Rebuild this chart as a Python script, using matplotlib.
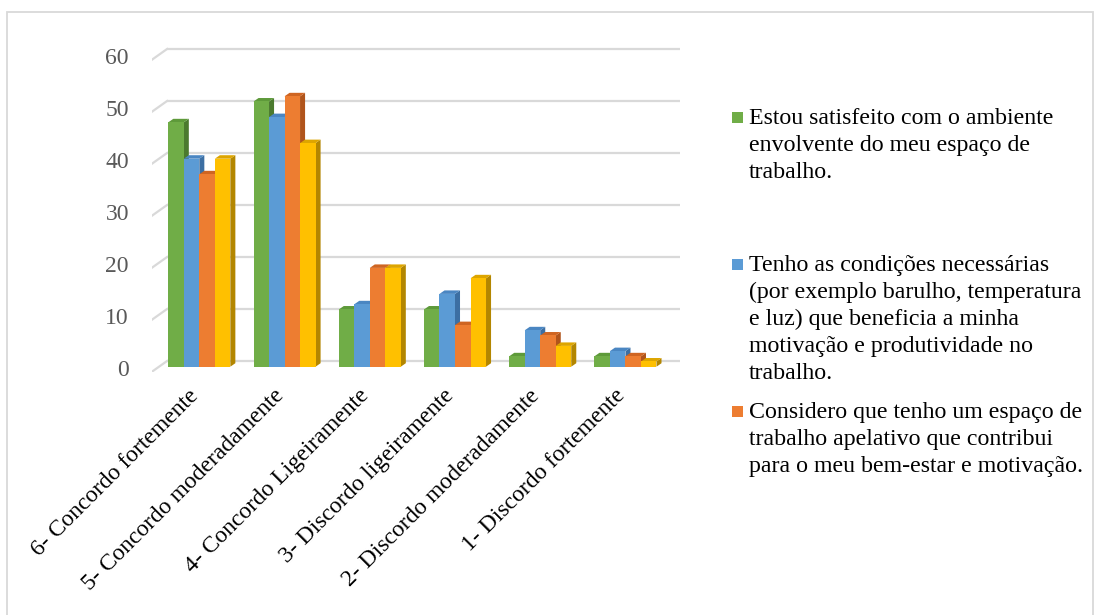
import matplotlib.pyplot as plt
from matplotlib.patches import Polygon, Rectangle
from matplotlib.transforms import offset_copy

categorias = ['6- Concordo fortemente', '5- Concordo moderadamente', '4- Concordo Ligeiramente',
              '3- Discordo ligeiramente', '2- Discordo moderadamente', '1- Discordo fortemente']

satisfeito = [47, 51, 11, 11, 2, 2]
condicoes = [40, 48, 12, 14, 7, 3]
apelativo = [37, 52, 19, 8, 6, 2]
quarta = [40, 43, 19, 17, 4, 1]

legendas = ['Estou satisfeito com o ambiente\nenvolvente do meu espaço de\ntrabalho.',
            'Tenho as condições necessárias\n(por exemplo barulho, temperatura\ne luz) que beneficia a minha\nmotivação e produtividade no\ntrabalho.',
            'Considero que tenho um espaço de\ntrabalho apelativo que contribui\npara o meu bem-estar e motivação.']

yticks = [0, 10, 20, 30, 40, 50, 60]

series = [satisfeito, condicoes, apelativo, quarta]
# cor da frente, cor do topo, cor do lado
cores = [('#70AD47', '#5E9A3A', '#4B7A2E'),
         ('#5B9BD5', '#4A86C2', '#3C6FA3'),
         ('#ED7D31', '#CF6522', '#B0541B'),
         ('#FFC000', '#DDA500', '#B38600')]

W, H = 1098, 615
fig = plt.figure(figsize=(W / 100, H / 100), dpi=100)
fig.patch.set_facecolor('white')

# moldura do gráfico
fig.patches.append(Rectangle((7 / W, -0.05), 1086 / W, 1.05 - 12 / H, transform=fig.transFigure,
                             fill=False, edgecolor='#D9D9D9', lw=1.3))

ax = fig.add_axes([152 / W, 1 - 371.9 / H, 528 / W, (371.9 - 44.3) / H])
ax.set_xlim(-0.555, 5.64)
ax.set_ylim(-1, 62)
ax.axis('off')

# grelha na parede de trás + traço em perspectiva
gdy = 1.1
rotulo_y = offset_copy(ax.transData, fig=fig, x=-23, y=-3.5, units='dots')
for v in yticks:
    ax.plot([-0.378, 5.64], [v + gdy, v + gdy], color='#D9D9D9', lw=1.6, zorder=1,
            solid_capstyle='butt')
    ax.plot([-0.555, -0.378], [v - 0.96, v + gdy], color='#D9D9D9', lw=1.6, zorder=1)
    ax.text(-0.555, v, str(v), ha='right', va='center', fontsize=17, transform=rotulo_y,
            family='Liberation Serif', color='#595959')

w = 0.182
dx, dy = 0.059, 0.67
for j, (vals, (cf, ct, cl)) in enumerate(zip(series, cores)):
    xs = [i - 2 * w + j * w for i in range(len(vals))]
    ax.bar(xs, vals, width=w, align='edge', color=cf, zorder=3, lw=0)
    for x, v in zip(xs, vals):
        r = x + w
        ax.add_patch(Polygon([(r, 0), (r + dx, dy), (r + dx, v + dy), (r, v)],
                             closed=True, facecolor=cl, lw=0, zorder=2))
        ax.add_patch(Polygon([(x, v), (r, v), (r + dx, v + dy), (x + dx, v + dy)],
                             closed=True, facecolor=ct, lw=0, zorder=2.5))

for i, c in enumerate(categorias):
    ax.text(i + 0.04, -3.6, c, rotation=45, ha='right', va='top', fontsize=17,
            family='Liberation Serif', color='black')

# legenda
baselines = [124, 271, 418]
for txt, base, (cf, _, _) in zip(legendas, baselines, cores):
    fig.patches.append(Rectangle((732 / W, 1 - (base - 1) / H), 11 / W, 11 / H,
                                 transform=fig.transFigure, facecolor=cf, lw=0))
    for k, linha in enumerate(txt.split('\n')):
        fig.text(749 / W, 1 - (base + 27 * k) / H, linha, ha='left', va='baseline',
                 fontsize=17.2, family='Liberation Serif', color='black')

fig.savefig('out.png', dpi=100)
